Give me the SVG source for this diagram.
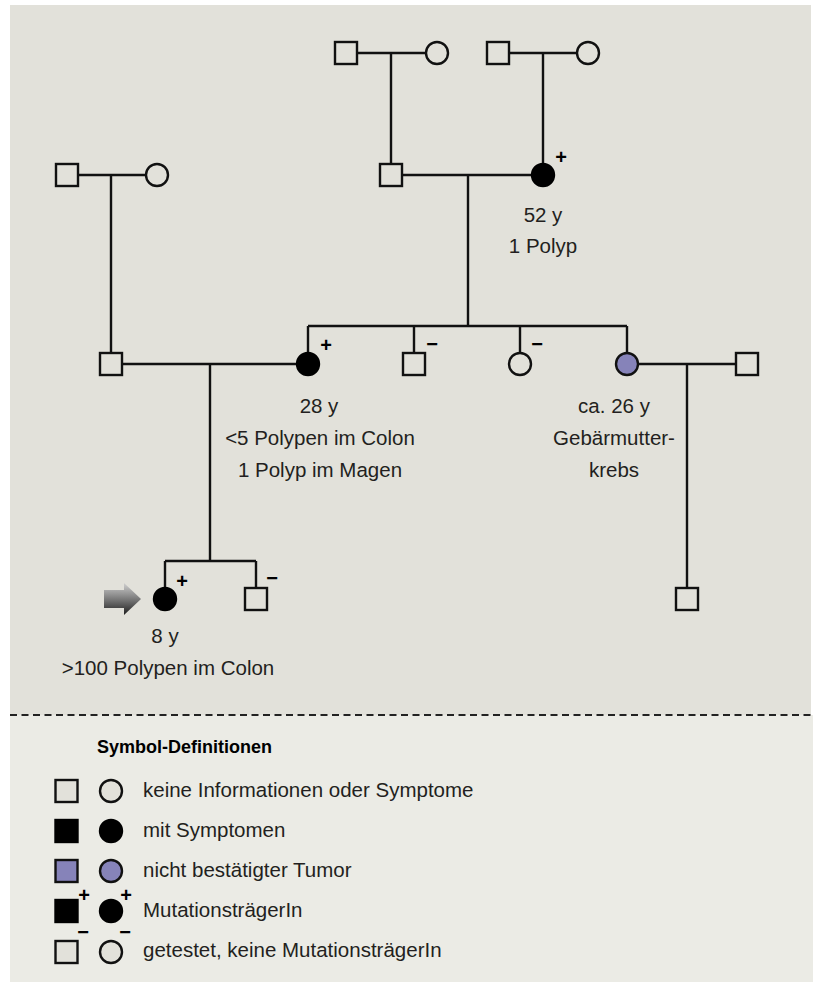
<svg xmlns="http://www.w3.org/2000/svg" width="813" height="982" viewBox="0 0 813 982">
<defs>
<style>
.ln{stroke:#111;stroke-width:2.4;fill:none}
.e{fill:#e2e1da;stroke:#111;stroke-width:2.4}
.a{fill:#000;stroke:#000;stroke-width:2.4}
.b{fill:#8683b9;stroke:#111;stroke-width:2.4}
.t{font-family:"Liberation Sans",Arial,Helvetica,sans-serif;font-size:20.5px;fill:#231f20;text-anchor:middle}
.lt{font-family:"Liberation Sans",Arial,Helvetica,sans-serif;font-size:20.5px;fill:#231f20}
.s{font-family:"Liberation Sans",Arial,Helvetica,sans-serif;font-size:20px;font-weight:bold;fill:#000;text-anchor:middle}
</style>
<linearGradient id="ag" x1="0" y1="0" x2="0" y2="1">
<stop offset="0" stop-color="#d0d0d0"/>
<stop offset="0.5" stop-color="#7a7a7a"/>
<stop offset="1" stop-color="#1e1e1e"/>
</linearGradient>
</defs>
<rect x="10" y="5" width="801" height="710" fill="#e2e1da"/>
<rect x="10" y="715" width="803" height="267" fill="#ebebe5"/>
<line x1="10" y1="715" x2="813" y2="715" stroke="#222" stroke-width="2" stroke-dasharray="7 4.5"/>

<g id="connectors">
<path class="ln" d="M346 53H437M391 53V175"/>
<path class="ln" d="M498 53H588M543 53V175"/>
<path class="ln" d="M391 175H543M468 175V326"/>
<path class="ln" d="M308 326H627M308 326V364M414 326V364M520 326V364M627 326V364"/>
<path class="ln" d="M67 175H157M111 175V364"/>
<path class="ln" d="M111 364H308M210 364V561"/>
<path class="ln" d="M165 561H256M165 561V599M256 561V599"/>
<path class="ln" d="M627 364H747M687 364V599"/>
</g>

<g id="gp1m"><rect class="e" x="335" y="42" width="22" height="22"/></g>
<g id="gp1f"><circle class="e" cx="437" cy="53" r="11"/></g>
<g id="gp2m"><rect class="e" x="487" y="42" width="22" height="22"/></g>
<g id="gp2f"><circle class="e" cx="588" cy="53" r="11"/></g>
<g id="lgpm"><rect class="e" x="56" y="164" width="22" height="22"/></g>
<g id="lgpf"><circle class="e" cx="157" cy="175" r="11"/></g>
<g id="grandfather"><rect class="e" x="380" y="164" width="22" height="22"/></g>
<g id="grandmother"><circle class="a" cx="543" cy="175" r="11"/><text class="s" x="561" y="164">+</text>
<text class="t" x="543" y="222">52 y</text><text class="t" x="543" y="253">1 Polyp</text></g>
<g id="father"><rect class="e" x="100" y="353" width="22" height="22"/></g>
<g id="mother"><circle class="a" cx="308" cy="364" r="11"/><text class="s" x="326" y="352">+</text>
<text class="t" x="319" y="413">28 y</text><text class="t" x="320" y="445">&lt;5 Polypen im Colon</text><text class="t" x="320" y="477">1 Polyp im Magen</text></g>
<g id="uncle"><rect class="e" x="403" y="353" width="22" height="22"/><text class="s" x="432" y="351">−</text></g>
<g id="aunt1"><circle class="e" cx="520" cy="364" r="11"/><text class="s" x="537" y="351">−</text></g>
<g id="aunt2"><circle class="b" cx="627" cy="364" r="11"/>
<text class="t" x="614" y="413">ca. 26 y</text><text class="t" x="614" y="445">Gebärmutter-</text><text class="t" x="614" y="477">krebs</text></g>
<g id="aunt2husband"><rect class="e" x="736" y="353" width="22" height="22"/></g>
<g id="cousin"><rect class="e" x="676" y="588" width="22" height="22"/></g>
<g id="proband"><path d="M104 590H124V583L141 599L124 615V608H104Z" fill="url(#ag)"/>
<circle class="a" cx="165" cy="599" r="11"/><text class="s" x="182" y="588">+</text>
<text class="t" x="165" y="643">8 y</text><text class="t" x="168" y="675">&gt;100 Polypen im Colon</text></g>
<g id="brother"><rect class="e" x="245" y="588" width="22" height="22"/><text class="s" x="272" y="585">−</text></g>

<g id="legend">
<text x="97" y="753" font-family="'Liberation Sans',Arial,sans-serif" font-size="18" font-weight="bold" fill="#000">Symbol-Definitionen</text>
<rect class="e" x="55.5" y="780" width="22" height="22"/><circle class="e" cx="111" cy="791" r="11"/>
<text class="lt" x="143" y="797">keine Informationen oder Symptome</text>
<rect class="a" x="55.5" y="820" width="22" height="22"/><circle class="a" cx="111" cy="831" r="11"/>
<text class="lt" x="143" y="837">mit Symptomen</text>
<rect class="b" x="55.5" y="860" width="22" height="22"/><circle class="b" cx="111" cy="871" r="11"/>
<text class="lt" x="143" y="877">nicht bestätigter Tumor</text>
<rect class="a" x="55.5" y="900" width="22" height="22"/><circle class="a" cx="111" cy="911" r="11"/>
<text class="s" x="84" y="902">+</text><text class="s" x="126" y="902">+</text>
<text class="lt" x="143" y="917">MutationsträgerIn</text>
<rect class="e" x="55.5" y="941" width="22" height="22"/><circle class="e" cx="111" cy="952" r="11"/>
<text class="s" x="83" y="939">−</text><text class="s" x="125" y="939">−</text>
<text class="lt" x="143" y="957">getestet, keine MutationsträgerIn</text>
</g>
</svg>
